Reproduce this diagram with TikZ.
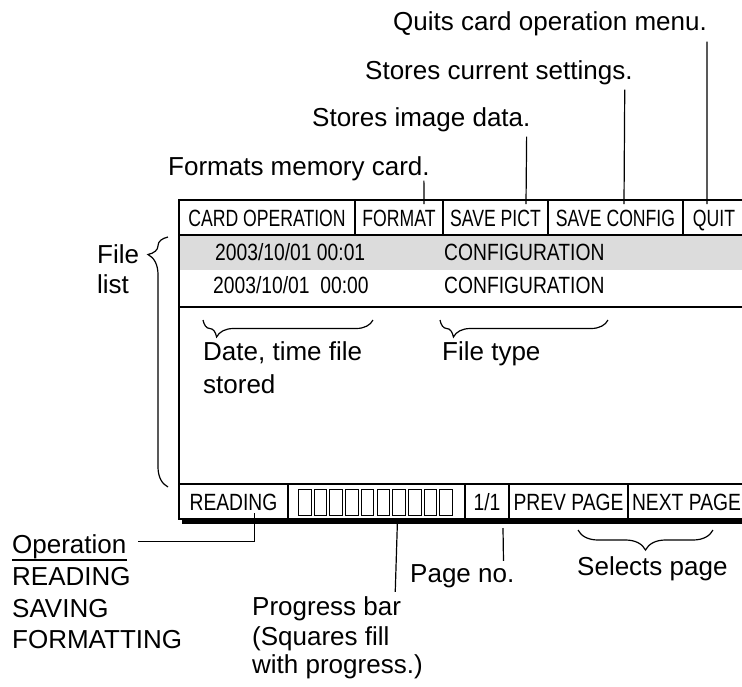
\documentclass[tikz,border=0pt]{standalone}
\usepackage{fontspec}
\setmainfont{Liberation Sans}
\newfontfamily\scrfont[FakeStretch=0.75]{Liberation Sans}
\newfontfamily\cfgfont[FakeStretch=0.82]{Liberation Sans}
\usepackage{xcolor}
\usepackage{tikz}
\usetikzlibrary{positioning,decorations.pathreplacing}
\definecolor{cdink}{HTML}{000000}
\definecolor{cdrow}{HTML}{DCDCDC}
\newcommand\notesize{\fontsize{26}{31}\selectfont}
\newcommand\scrsize{\fontsize{23.5}{28}\selectfont}
\tikzset{
  note/.style={anchor=base west,inner sep=0pt,font=\notesize,text=cdink},
  cell/.style={draw=cdink,line width=1.5pt,outer sep=0pt,inner sep=0pt,
               text height=17pt,text depth=0pt,font=\scrfont\scrsize,text=cdink},
  hcell/.style={cell,minimum height=35pt},
  scell/.style={cell,minimum height=35pt,font=\cfgfont\scrsize},
  rowtxt/.style={anchor=base west,inner sep=0pt,font=\cfgfont\scrsize,text=cdink},
  sqbox/.style={draw=cdink,line width=1pt,inner sep=0pt,outer sep=0pt,
                minimum width=12.6pt,minimum height=26.5pt,anchor=west},
  lead/.style={draw=cdink,line width=1.2pt},
  cbrace/.style={draw=cdink,line width=1.2pt,decorate,decoration={brace,amplitude=#1}},
}

\begin{document}
\begin{tikzpicture}[x=1pt,y=-1pt]
  \useasboundingbox (0,0) rectangle (742,686);
  \clip (0,0) rectangle (742,686);
  \node[fill=cdrow,inner sep=0pt,outer sep=0pt,minimum width=566pt,minimum height=35pt,anchor=north west] (rowa) at (179,235) {};
  \node[inner sep=0pt,outer sep=0pt,minimum width=566pt,minimum height=37pt,anchor=north west] (rowb) at (179,270) {};
  \draw[line width=1.5pt,draw=cdink] (rowb.south west) -- (rowb.south east);
  \node[draw=cdink,line width=1.5pt,inner sep=0pt,outer sep=0pt,minimum width=566pt,minimum height=319pt,anchor=north west] (screen) at (179,200) {};
  \node[hcell,minimum width=176pt,anchor=north west] (hcard) at (179,200) {CARD OPERATION};
  \node[hcell,minimum width=88pt,right=0pt of hcard] (hfmt) {FORMAT};
  \node[hcell,minimum width=105pt,right=0pt of hfmt] (hpict) {SAVE PICT};
  \node[hcell,minimum width=135pt,right=0pt of hpict] (hcfg) {SAVE CONFIG};
  \node[hcell,minimum width=62pt,right=0pt of hcfg] (hquit) {QUIT};
  \node[scell,minimum width=109pt,anchor=north west] (sread) at (179,484) {READING};
  \node[scell,minimum width=177pt,right=0pt of sread] (sprog) {};
  \node[scell,minimum width=44pt,right=0pt of sprog] (spage) {1/1};
  \node[scell,minimum width=119pt,right=0pt of spage] (sprev) {PREV PAGE};
  \node[scell,minimum width=117pt,right=0pt of sprev] (snext) {NEXT PAGE};
  \foreach \i in {0,...,9}
    \node[sqbox] (sq\i) at ([xshift=10.5pt+\i*15.7pt,yshift=-1pt]sprog.west) {};
  \fill[cdink] ([xshift=3pt]screen.south west) rectangle ([xshift=6pt,yshift=-5pt]screen.south east);
  \node[rowtxt] (da) at (215,260) {2003/10/01 00:01};
  \node[rowtxt] (ca) at (444,260) {CONFIGURATION};
  \node[rowtxt] (db) at (213,293) {2003/10/01\ \ 00:00};
  \node[rowtxt] (cb) at (444,293) {CONFIGURATION};
  \node[note] (tfmt) at (168,175) {Formats memory card.};
  \node[note] (tpict) at (312,126) {Stores image data.};
  \node[note] (tcfg) at (365,79) {Stores current settings.};
  \node[note] (tquit) at (393,30) {Quits card operation menu.};
  \node[note] (tfile) at (97,263) {File};
  \node[note] (tlist) at (97,293) {list};
  \node[note] (tdate) at (203,360) {Date, time file};
  \node[note] (tstor) at (203,393) {stored};
  \node[note] (ttype) at (442,360) {File type};
  \node[note] (tsel) at (577,575) {Selects page};
  \node[note] (topn) at (12,553) {Operation};
  \node[note] (tread) at (12,585) {READING};
  \node[note] (tsave) at (12,617) {SAVING};
  \node[note] (tform) at (12,648) {FORMATTING};
  \node[note] (tprog) at (252,615) {Progress bar};
  \node[note] (tsq) at (252,645) {(Squares fill};
  \node[note] (twith) at (252,673) {with progress.)};
  \node[note] (tpage) at (410,582) {Page no.};
  \draw[line width=1.2pt,draw=cdink] ([yshift=-7pt]topn.base west) -- ([yshift=-7pt]topn.base east);
  \draw[cbrace=17pt,decoration={aspect=0.92}] (373,320) -- (203,320);
  \draw[cbrace=17pt,decoration={aspect=0.92}] (608,320) -- (440,320);
  \draw[cbrace=20pt,decoration={aspect=0.93}] (168,487) -- (168,237);
  \draw[cbrace=20pt,decoration={aspect=0.5}] (713,530) -- (578,530);
  \draw[lead] ([xshift=-6pt]tfmt.south east) -- ([xshift=25pt,yshift=-4pt]hfmt.north);
  \draw[lead] ([xshift=-4pt,yshift=-5pt]tpict.south east) -- ([xshift=30.5pt,yshift=-4pt]hpict.north);
  \draw[lead] ([xshift=-8pt,yshift=-5pt]tcfg.south east) -- ([xshift=8.5pt,yshift=-4pt]hcfg.north);
  \draw[lead] ([yshift=-6pt]tquit.south east) -- ([xshift=-7pt,yshift=-4pt]hquit.north);
  \draw[lead] ([xshift=21pt,yshift=6pt]sread.south) |- ([xshift=11pt,yshift=5pt]topn.east);
  \draw[lead] ([xshift=21pt]sprog.south) -- ([xshift=-6pt,yshift=4pt]tprog.north east);
  \draw[lead] ([xshift=16pt,yshift=-9pt]spage.south) -- ([xshift=-11pt,yshift=3pt]tpage.north east);
\end{tikzpicture}
\end{document}
